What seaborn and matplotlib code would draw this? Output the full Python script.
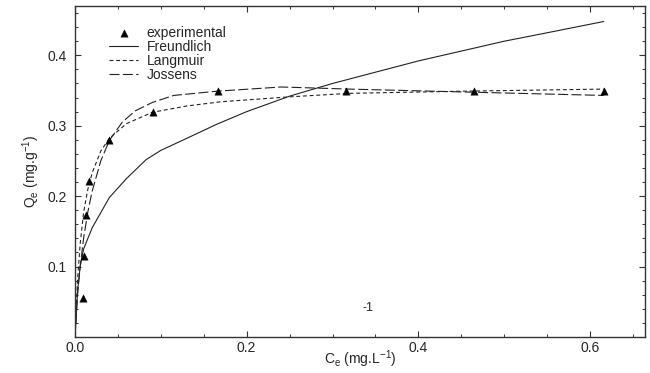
import numpy as np
import pandas as pd
import matplotlib
matplotlib.use("Agg")
import matplotlib.pyplot as plt
import seaborn as sns

# experimental data
exp_ce = [0.009, 0.011, 0.013, 0.016, 0.040, 0.091, 0.166, 0.316, 0.465, 0.616]
exp_qe = [0.056, 0.115, 0.173, 0.222, 0.280, 0.320, 0.350, 0.350, 0.350, 0.350]

# model curves
fr_ce = [0.0, 0.003, 0.006, 0.01, 0.02, 0.04, 0.06, 0.083, 0.1, 0.13, 0.165, 0.2, 0.25, 0.3, 0.35, 0.4, 0.45, 0.5, 0.55, 0.616]
fr_qe = [0.0, 0.065, 0.100, 0.125, 0.155, 0.198, 0.225, 0.252, 0.265, 0.282, 0.302, 0.320, 0.342, 0.360, 0.376, 0.392, 0.406, 0.420, 0.432, 0.448]

la_ce = [0.0, 0.003, 0.006, 0.01, 0.015, 0.02, 0.03, 0.04, 0.06, 0.09, 0.13, 0.17, 0.25, 0.32, 0.45, 0.616]
la_qe = [0.0, 0.082, 0.132, 0.177, 0.210, 0.233, 0.264, 0.282, 0.303, 0.319, 0.328, 0.334, 0.341, 0.346, 0.349, 0.352]

jo_ce = [0.0, 0.003, 0.006, 0.01, 0.015, 0.02, 0.03, 0.04, 0.055, 0.07, 0.09, 0.115, 0.165, 0.24, 0.32, 0.45, 0.616]
jo_qe = [0.0, 0.060, 0.100, 0.140, 0.178, 0.207, 0.250, 0.279, 0.305, 0.321, 0.333, 0.343, 0.349, 0.355, 0.352, 0.348, 0.343]

x_ticks = [0.0, 0.2, 0.4, 0.6]
y_ticks = [0.1, 0.2, 0.3, 0.4]

sns.set_style("ticks")
plt.rcParams['font.family'] = ['Liberation Sans', 'DejaVu Sans']
plt.rcParams['mathtext.fontset'] = 'custom'
plt.rcParams['mathtext.rm'] = 'Liberation Sans'
plt.rcParams['mathtext.it'] = 'Liberation Sans'

fig = plt.figure(figsize=(6.5, 3.73), dpi=100)
ax = fig.add_axes([75/650, 1-337/373, 570/650, 331/373])

col = "#222222"
sns.lineplot(x=fr_ce, y=fr_qe, ax=ax, color=col, lw=0.8, label="Freundlich", sort=False)
sns.lineplot(x=la_ce, y=la_qe, ax=ax, color=col, lw=0.8, label="Langmuir", sort=False)
sns.lineplot(x=jo_ce, y=jo_qe, ax=ax, color=col, lw=0.8, label="Jossens", sort=False)
ax.lines[1].set_dashes([3.5, 2.5])
ax.lines[2].set_dashes([9, 3])
sns.scatterplot(x=exp_ce, y=exp_qe, ax=ax, marker="^", color="black", s=28,
                edgecolor="black", linewidth=0.3, label="experimental", zorder=5)

ax.set_xlim(0, 0.664)
ax.set_ylim(0, 0.47)
ax.set_xticks(x_ticks)
ax.set_xticklabels([f"{v:.1f}" for v in x_ticks])
ax.set_yticks(y_ticks)
ax.set_yticklabels([f"{v:.1f}" for v in y_ticks])
ax.set_xticks(np.arange(0, 0.664, 0.05), minor=True)
ax.set_yticks(np.arange(0, 0.47, 0.02), minor=True)
ax.tick_params(which="both", direction="in", top=True, right=True, labelsize=10, color="#333333")
ax.tick_params(axis="x", pad=3)
ax.tick_params(axis="y", pad=6)
ax.tick_params(which="major", length=4, width=0.8)
ax.tick_params(which="minor", length=2.5, width=0.7)
for s in ax.spines.values():
    s.set_linewidth(1.0)
    s.set_color("#333333")

ax.set_xlabel("C$_\\mathrm{e}$ (mg.L$^{-1}$)", fontsize=10, va="center")
ax.xaxis.set_label_coords(0.5, -(359 - 337) / 331)
ax.set_ylabel("Q$_\\mathrm{e}$ (mg.g$^{-1}$)", fontsize=10, labelpad=4)

handles, labels = ax.get_legend_handles_labels()
order = [labels.index(l) for l in ["experimental", "Freundlich", "Langmuir", "Jossens"]]
ax.legend([handles[i] for i in order], [labels[i] for i in order],
          loc="upper left", bbox_to_anchor=(0.06, 0.94), frameon=False,
          fontsize=10, handlelength=2.1, handletextpad=0.6, labelspacing=0.0,
          borderaxespad=0, borderpad=0)

fig.text(368/650, 1-308/373, "-1", fontsize=9, ha="center", va="center")

fig.savefig("out.png", dpi=100)
